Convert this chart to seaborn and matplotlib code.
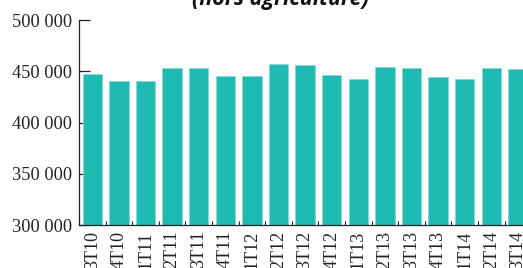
import matplotlib
matplotlib.use("Agg")
import matplotlib.pyplot as plt
import seaborn as sns
import pandas as pd

categories = ["3T10", "4T10", "1T11", "2T11", "3T11", "4T11", "1T12", "2T12",
              "3T12", "4T12", "1T13", "2T13", "3T13", "4T13", "1T14", "2T14", "3T14"]
values = [447400, 440600, 440900, 453200, 452900, 445400, 445700, 457100,
          455900, 446400, 442500, 454500, 453200, 444500, 442500, 452900, 452000]
yticks = [300000, 350000, 400000, 450000, 500000]
ytick_labels = ["300 000", "350 000", "400 000", "450 000", "500 000"]
title = "(hors agriculture)"

sns.set_style("ticks")
df = pd.DataFrame({"cat": categories, "val": values})

fig = plt.figure(figsize=(5.23, 2.68), dpi=100)
ax = fig.add_axes([79 / 523, 1 - 225.3 / 268, 452.2 / 523, (225.3 - 20) / 268])
sns.barplot(data=df, x="cat", y="val", color="#1fbbb3", saturation=1,
            width=0.725, edgecolor="#8ad8d3", linewidth=0.6, ax=ax, zorder=1)
ax.set_xlim(-0.5, len(categories) - 0.5)
ax.set_ylim(300000, 500000)
ax.set_xlabel("")
ax.set_ylabel("")
ax.set_yticks(yticks)
ax.set_yticklabels(ytick_labels, family="Liberation Serif", fontsize=13.2, color="#222222")
ax.set_xticks(range(len(categories)))
ax.set_xticklabels(categories, rotation=90, family="Liberation Serif", fontsize=13,
                   color="#222222")
ax.tick_params(axis="x", which="major", bottom=True, length=0, pad=4)
ax.set_xticks([i - 0.5 for i in range(len(categories) + 1)], minor=True)
ax.tick_params(axis="x", which="minor", bottom=True, direction="in", length=3, width=0.8,
               color="#222222")
ax.tick_params(axis="y", which="major", left=True, direction="in", length=8, width=0.9,
               color="#222222", pad=5)
for s in ["top", "right"]:
    ax.spines[s].set_visible(False)
for s in ["left", "bottom"]:
    ax.spines[s].set_color("#222222")
    ax.spines[s].set_linewidth(0.9)

fig.text(280 / 523, 1 - 5 / 268, title, ha="center", va="baseline",
         fontsize=15.5, fontweight="bold", fontstyle="italic", family="Open Sans",
         color="#111111")

fig.savefig("out.png", dpi=100)
